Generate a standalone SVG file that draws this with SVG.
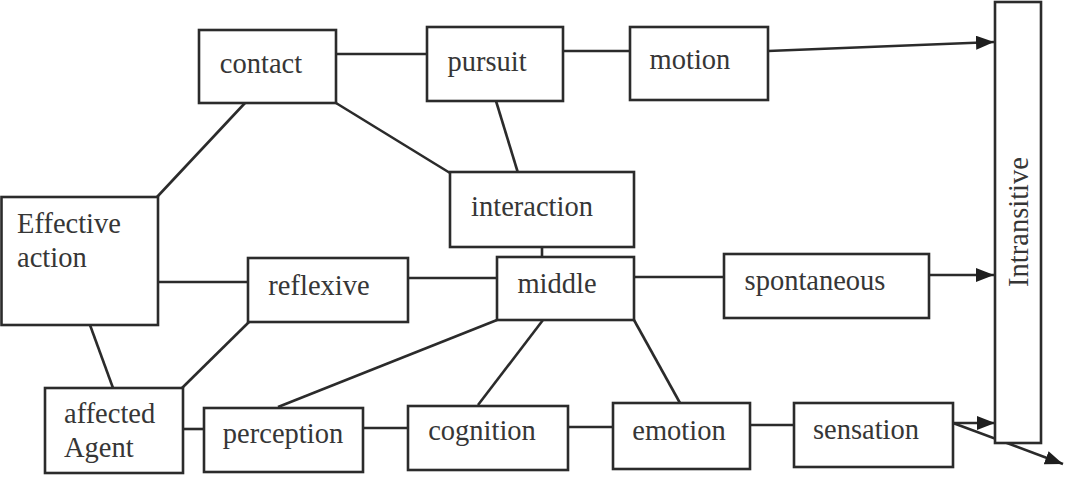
<svg xmlns="http://www.w3.org/2000/svg" width="1065" height="479" viewBox="0 0 1065 479">
<defs>
<style>
.box{fill:#fff;stroke:#2b2b2b;stroke-width:2.6}
.ln{fill:none;stroke:#2b2b2b;stroke-width:2.6}
.t{font-family:"Liberation Serif","Times New Roman",serif;font-size:28.5px;fill:#363636;text-anchor:middle}
.tl{font-family:"Liberation Serif","Times New Roman",serif;font-size:28.5px;fill:#363636}
</style>
<marker id="ah" viewBox="0 0 18 14" refX="18" refY="7" markerWidth="18" markerHeight="14" markerUnits="userSpaceOnUse" orient="auto">
<path d="M0,0 L18,7 L0,14 Z" fill="#1e1e1e"/>
</marker>
</defs>
<rect width="1065" height="479" fill="#fff"/>
<g id="connectors">
<line class="ln" x1="245" y1="103" x2="157" y2="197"/>
<line class="ln" x1="336" y1="54" x2="427" y2="54"/>
<line class="ln" x1="563" y1="51" x2="630" y2="51"/>
<line class="ln" x1="768" y1="51" x2="994" y2="42" marker-end="url(#ah)"/>
<line class="ln" x1="336" y1="103" x2="450" y2="173"/>
<line class="ln" x1="496" y1="101" x2="518" y2="173"/>
<line class="ln" x1="542" y1="247" x2="542" y2="257"/>
<line class="ln" x1="158" y1="282" x2="248" y2="282"/>
<line class="ln" x1="408" y1="278" x2="497" y2="278"/>
<line class="ln" x1="634" y1="277" x2="724" y2="277"/>
<line class="ln" x1="929" y1="275" x2="994" y2="275" marker-end="url(#ah)"/>
<line class="ln" x1="90" y1="325" x2="113" y2="388"/>
<line class="ln" x1="249" y1="322" x2="182" y2="388"/>
<line class="ln" x1="497" y1="320" x2="278" y2="407"/>
<line class="ln" x1="543" y1="320" x2="478" y2="405"/>
<line class="ln" x1="634" y1="320" x2="680" y2="403"/>
<line class="ln" x1="183" y1="429" x2="204" y2="429"/>
<line class="ln" x1="363" y1="428" x2="408" y2="428"/>
<line class="ln" x1="568" y1="427" x2="613" y2="427"/>
<line class="ln" x1="750" y1="425" x2="794" y2="425"/>
<line class="ln" x1="953" y1="423" x2="995" y2="423" marker-end="url(#ah)"/>
<line class="ln" x1="953" y1="423" x2="1063" y2="464" marker-end="url(#ah)"/>
</g>
<g id="node-contact"><rect class="box" x="199" y="30" width="137" height="73"/><text class="t" x="261" y="73">contact</text></g>
<g id="node-pursuit"><rect class="box" x="427" y="27" width="136" height="74"/><text class="t" x="487" y="71">pursuit</text></g>
<g id="node-motion"><rect class="box" x="630" y="27" width="138" height="73"/><text class="t" x="690" y="69">motion</text></g>
<g id="node-interaction"><rect class="box" x="450" y="172" width="184" height="75"/><text class="t" x="532" y="216">interaction</text></g>
<g id="node-effective-action"><rect class="box" x="1.5" y="197" width="156.5" height="128"/><text class="tl" x="17" y="233">Effective</text><text class="tl" x="17" y="267">action</text></g>
<g id="node-reflexive"><rect class="box" x="248" y="258" width="160" height="64"/><text class="t" x="319" y="295">reflexive</text></g>
<g id="node-middle"><rect class="box" x="497" y="257" width="137" height="63"/><text class="t" x="557" y="293">middle</text></g>
<g id="node-spontaneous"><rect class="box" x="724" y="254" width="205" height="64"/><text class="t" x="815" y="290">spontaneous</text></g>
<g id="node-affected-agent"><rect class="box" x="45" y="388" width="138" height="85"/><text class="tl" x="64" y="423">affected</text><text class="tl" x="64" y="457">Agent</text></g>
<g id="node-perception"><rect class="box" x="204" y="408" width="159" height="64"/><text class="t" x="283" y="443">perception</text></g>
<g id="node-cognition"><rect class="box" x="408" y="406" width="160" height="64"/><text class="t" x="482" y="440">cognition</text></g>
<g id="node-emotion"><rect class="box" x="613" y="403" width="137" height="66"/><text class="t" x="679" y="440">emotion</text></g>
<g id="node-sensation"><rect class="box" x="794" y="403" width="159" height="64"/><text class="t" x="866" y="439">sensation</text></g>
<g id="node-intransitive"><rect class="box" x="995" y="2" width="46" height="441"/><text class="t" transform="translate(1028,222) rotate(-90)">Intransitive</text></g>
</svg>
